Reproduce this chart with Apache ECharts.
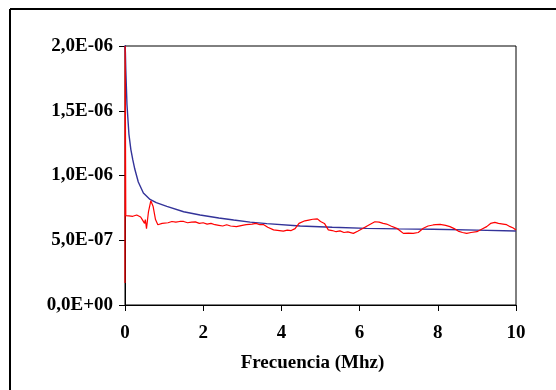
<!DOCTYPE html>
<html>
<head>
<meta charset="utf-8">
<script src="https://cdn.jsdelivr.net/npm/echarts@6/dist/echarts.min.js"></script>
<style>
html,body{margin:0;padding:0;background:#fff;}
#c{width:556px;height:390px;}
</style>
</head>
<body>
<div id="c"></div>
<script>
// X tick labels and Y tick labels
var xTicks = [0, 2, 4, 6, 8, 10];
var yTickLabels = ['0,0E+00', '5,0E-07', '1,0E-06', '1,5E-06', '2,0E-06'];
var xTitle = 'Frecuencia (Mhz)';

// Blue curve (frequency MHz, value)
var blueFreq = [0, 0.01, 0.02, 0.05, 0.1, 0.15, 0.2, 0.25, 0.34, 0.47, 0.64, 0.8, 1.07, 1.5, 1.92, 2.4, 2.78, 3.2, 3.63, 4.48, 5.3, 6.18, 7.0, 7.88, 9.0, 10.0];
var blueVals = [2.02e-6, 1.95e-6, 1.82e-6, 1.55e-6, 1.32e-6, 1.2e-6, 1.12e-6, 1.05e-6, 9.5e-7, 8.65e-7, 8.15e-7, 7.9e-7, 7.62e-7, 7.2e-7, 6.95e-7, 6.72e-7, 6.56e-7, 6.4e-7, 6.28e-7, 6.1e-7, 6.0e-7, 5.92e-7, 5.88e-7, 5.85e-7, 5.78e-7, 5.71e-7];

// Red curve (frequency MHz, value)
var redFreq = [0, 0.004, 0.02, 0.06, 0.1, 0.15, 0.2, 0.25, 0.3, 0.35, 0.4, 0.45, 0.5, 0.52, 0.55, 0.6, 0.66, 0.72, 0.78, 0.84, 0.95, 1.1, 1.2, 1.3, 1.4, 1.5, 1.6, 1.7, 1.8, 1.9, 2.0, 2.1, 2.2, 2.3, 2.4, 2.5, 2.6, 2.7, 2.85, 3.0, 3.1, 3.25, 3.35, 3.45, 3.55, 3.65, 3.8, 3.95, 4.05, 4.15, 4.25, 4.35, 4.45, 4.6, 4.7, 4.8, 4.85, 4.92, 5.0, 5.1, 5.2, 5.3, 5.4, 5.5, 5.6, 5.7, 5.84, 5.95, 6.09, 6.25, 6.39, 6.5, 6.6, 6.69, 6.8, 6.95, 7.05, 7.12, 7.25, 7.37, 7.5, 7.63, 7.75, 7.88, 7.95, 8.06, 8.2, 8.31, 8.42, 8.52, 8.63, 8.74, 8.85, 9.0, 9.12, 9.25, 9.35, 9.46, 9.55, 9.67, 9.76, 9.85, 9.93, 10.0];
var redVals = [1.7e-7, 2.0e-6, 6.9e-7, 6.95e-7, 6.88e-7, 6.92e-7, 6.85e-7, 6.9e-7, 6.95e-7, 6.85e-7, 6.8e-7, 6.55e-7, 6.3e-7, 6.6e-7, 5.9e-7, 7.2e-7, 8.05e-7, 7.6e-7, 6.6e-7, 6.2e-7, 6.3e-7, 6.35e-7, 6.45e-7, 6.4e-7, 6.45e-7, 6.45e-7, 6.35e-7, 6.4e-7, 6.42e-7, 6.3e-7, 6.35e-7, 6.25e-7, 6.3e-7, 6.2e-7, 6.15e-7, 6.1e-7, 6.2e-7, 6.1e-7, 6.05e-7, 6.15e-7, 6.2e-7, 6.25e-7, 6.3e-7, 6.2e-7, 6.2e-7, 6.0e-7, 5.8e-7, 5.75e-7, 5.7e-7, 5.78e-7, 5.75e-7, 5.9e-7, 6.3e-7, 6.5e-7, 6.56e-7, 6.62e-7, 6.55e-7, 6.65e-7, 6.45e-7, 6.3e-7, 5.8e-7, 5.75e-7, 5.66e-7, 5.72e-7, 5.6e-7, 5.65e-7, 5.53e-7, 5.7e-7, 5.92e-7, 6.2e-7, 6.43e-7, 6.4e-7, 6.3e-7, 6.25e-7, 6.1e-7, 5.92e-7, 5.7e-7, 5.53e-7, 5.55e-7, 5.53e-7, 5.6e-7, 5.92e-7, 6.1e-7, 6.18e-7, 6.2e-7, 6.23e-7, 6.15e-7, 6.05e-7, 5.9e-7, 5.71e-7, 5.6e-7, 5.53e-7, 5.6e-7, 5.66e-7, 5.85e-7, 6.05e-7, 6.3e-7, 6.38e-7, 6.3e-7, 6.25e-7, 6.2e-7, 6.05e-7, 5.95e-7, 5.79e-7];

function pairs(xs, ys) {
  var out = [];
  for (var i = 0; i < xs.length; i++) out.push([xs[i], ys[i]]);
  return out;
}

var font = '"Liberation Serif", "Times New Roman", serif';
var chart = echarts.init(document.getElementById('c'), null, {renderer: 'canvas'});
chart.setOption({
  animation: false,
  backgroundColor: '#ffffff',
  grid: {left: 125, right: 40, top: 46, bottom: 85, show: true, borderColor: '#000', borderWidth: 1, backgroundColor: 'transparent'},
  xAxis: {
    type: 'value', min: xTicks[0], max: xTicks[xTicks.length - 1], interval: xTicks[1] - xTicks[0],
    axisLine: {show: true, lineStyle: {color: '#000', width: 1}},
    axisTick: {show: true, length: 6, lineStyle: {color: '#000'}},
    splitLine: {show: false},
    axisLabel: {color: '#000', fontFamily: font, fontWeight: 'bold', fontSize: 19, margin: 19},
    name: xTitle, nameLocation: 'middle', nameGap: 49,
    nameTextStyle: {color: '#000', fontFamily: font, fontWeight: 'bold', fontSize: 19, padding: [0, 16, 0, 0]}
  },
  yAxis: {
    type: 'value', min: 0, max: 2e-6, interval: 5e-7,
    axisLine: {show: true, lineStyle: {color: '#000', width: 1}},
    axisTick: {show: true, length: 6, lineStyle: {color: '#000'}},
    splitLine: {show: false},
    axisLabel: {
      color: '#000', fontFamily: font, fontWeight: 'bold', fontSize: 19, margin: 12,
      formatter: function (v) { return yTickLabels[Math.round(v / 5e-7)]; }
    }
  },
  graphic: [
    {type: 'line', shape: {x1: 10, y1: 9, x2: 556, y2: 9}, style: {stroke: '#000', lineWidth: 2}},
    {type: 'line', shape: {x1: 10, y1: 9, x2: 10, y2: 390}, style: {stroke: '#000', lineWidth: 2}}
  ],
  series: [
    {type: 'line', data: pairs(blueFreq, blueVals), showSymbol: false, symbol: 'none', lineStyle: {color: '#333399', width: 1.4}, z: 2},
    {type: 'line', data: pairs(redFreq, redVals), showSymbol: false, symbol: 'none', lineStyle: {color: '#ff0000', width: 1.2}, z: 3}
  ]
});
</script>
</body>
</html>
